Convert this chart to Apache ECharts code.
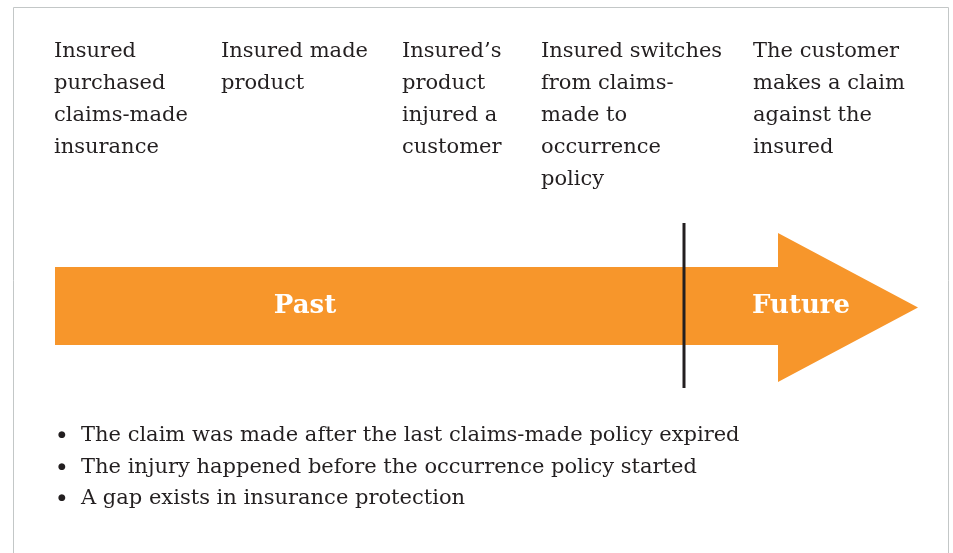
<!DOCTYPE html>
<html><head><meta charset="utf-8">
<script src="https://cdn.jsdelivr.net/npm/echarts@6/dist/echarts.min.js"></script>
<style>html,body{margin:0;padding:0;background:#fff}#c{width:953px;height:553px}</style>
</head><body><div id="c"></div>
<script>
const eventLabels = [
  "Insured\npurchased\nclaims-made\ninsurance",
  "Insured made\nproduct",
  "Insured’s\nproduct\ninjured a\ncustomer",
  "Insured switches\nfrom claims-\nmade to\noccurrence\npolicy",
  "The customer\nmakes a claim\nagainst the\ninsured"
];
const eventX = [54, 221, 402, 541, 753];
const phaseLabels = ["Past", "Future"];
const phaseX = [305, 801];
const bullets = [
  "The claim was made after the last claims-made policy expired",
  "The injury happened before the occurrence policy started",
  "A gap exists in insurance protection"
];
// arrow geometry in diagram units
const arrowShaft = {x0: 55, x1: 778, y0: 267, y1: 345};
const arrowHead = {x0: 778, tip: 918, y0: 233, y1: 382};
const dividerX = 684;

const FONT = "'DejaVu Serif', serif";
const ORANGE = '#f7962b';
const INK = '#231f20';

const chart = echarts.init(document.getElementById('c'));
chart.setOption({
  animation: false,
  grid: {left: 0, right: 0, top: 0, bottom: 0},
  xAxis: {type: 'value', min: 0, max: 953, show: false},
  yAxis: {type: 'value', min: 0, max: 553, inverse: true, show: false},
  graphic: [{
    type: 'rect', shape: {x: 13.5, y: 7.5, width: 935, height: 560},
    style: {fill: 'none', stroke: '#c3c7c7', lineWidth: 1}
  }],
  series: [
    {
      type: 'custom', silent: true,
      data: [[0]],
      renderItem: function (params, api) {
        const s = arrowShaft, h = arrowHead;
        const mid = (h.y0 + h.y1) / 2;
        const pts = [[s.x0, s.y0], [h.x0, s.y0], [h.x0, h.y0], [h.tip, mid], [h.x0, h.y1], [h.x0, s.y1], [s.x0, s.y1]]
          .map(p => api.coord(p));
        return {type: 'polygon', shape: {points: pts}, style: {fill: ORANGE}};
      }
    },
    {
      type: 'line', silent: true, symbol: 'none',
      data: [[dividerX, 223], [dividerX, 388]],
      lineStyle: {color: INK, width: 3}
    },
    {
      type: 'scatter', silent: true, symbolSize: 0, itemStyle: {opacity: 1},
      data: eventLabels.map((t, i) => ({value: [eventX[i], 36], name: t})),
      label: {
        show: true, position: [0, 0], align: 'left', verticalAlign: 'top', opacity: 1,
        formatter: p => p.name, fontFamily: FONT, fontSize: 21, lineHeight: 32, color: INK
      }
    },
    {
      type: 'scatter', silent: true, symbolSize: 0, itemStyle: {opacity: 1},
      data: phaseLabels.map((t, i) => ({value: [phaseX[i], 306], name: t})),
      label: {
        show: true, position: 'inside', align: 'center', verticalAlign: 'middle', opacity: 1,
        formatter: p => p.name, fontFamily: FONT, fontSize: 26, fontWeight: 'bold', color: '#ffffff'
      }
    },
    {
      type: 'scatter', silent: true, symbolSize: 0, itemStyle: {opacity: 1},
      data: bullets.map((t, i) => ({value: [58, 436 + i * 31.5], name: t})),
      label: {
        show: true, position: 'inside', align: 'left', verticalAlign: 'middle', opacity: 1,
        formatter: p => '{d|●}{t|' + p.name + '}',
        rich: {
          d: {fontFamily: 'DejaVu Sans', fontSize: 9, color: INK, width: 23, padding: [0, 0, 2, 0]},
          t: {fontFamily: FONT, fontSize: 21, color: INK}
        }
      }
    }
  ]
});
</script></body></html>
